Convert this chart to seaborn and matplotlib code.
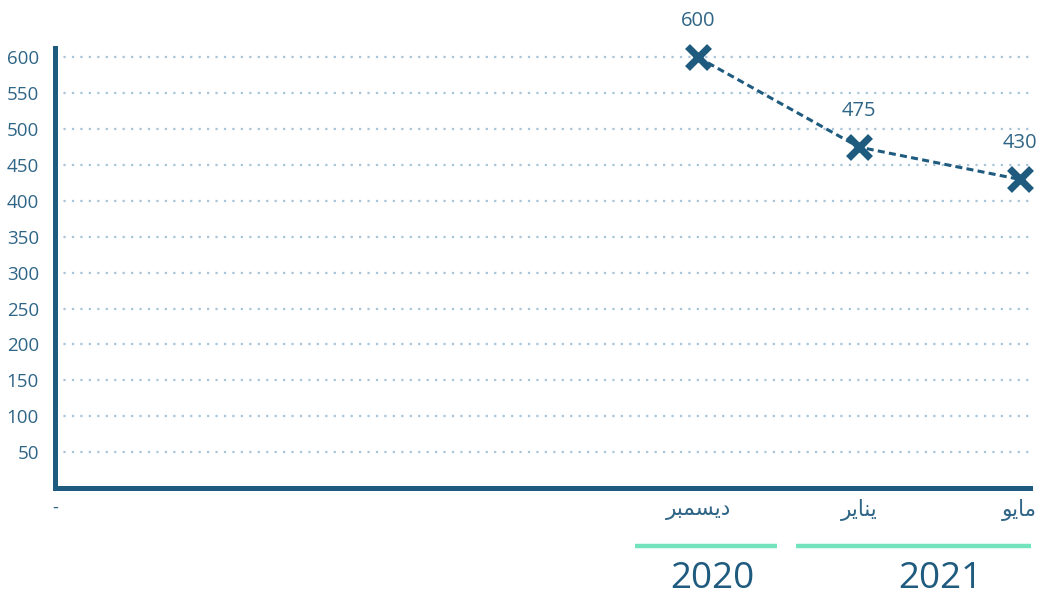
import numpy as np
import pandas as pd
import matplotlib
matplotlib.use("Agg")
import matplotlib.pyplot as plt
import seaborn as sns

# ---- data ----
categories = ["-", "", "", "", "ديسمبر", "يناير", "مايو"]
values = [np.nan, np.nan, np.nan, np.nan, 600, 475, 430]
y_ticks = [50, 100, 150, 200, 250, 300, 350, 400, 450, 500, 550, 600]
years = ["2020", "2021"]

# ---- simple Arabic shaping (matplotlib has no complex text layout) ----
FORMS = {
    "ا": ("\uFE8D", "\uFE8E", None, None),
    "ب": ("\uFE8F", "\uFE90", "\uFE91", "\uFE92"),
    "د": ("\uFEA9", "\uFEAA", None, None),
    "ر": ("\uFEAD", "\uFEAE", None, None),
    "س": ("\uFEB1", "\uFEB2", "\uFEB3", "\uFEB4"),
    "م": ("\uFEE1", "\uFEE2", "\uFEE3", "\uFEE4"),
    "ن": ("\uFEE5", "\uFEE6", "\uFEE7", "\uFEE8"),
    "و": ("\uFEED", "\uFEEE", None, None),
    "ي": ("\uFEF1", "\uFEF2", "\uFEF3", "\uFEF4"),
}


def shape(word):
    if not any(c in FORMS for c in word):
        return word
    out = []
    n = len(word)
    for i, c in enumerate(word):
        f = FORMS.get(c)
        if f is None:
            out.append(c)
            continue
        prev_j = i > 0 and word[i - 1] in FORMS and FORMS[word[i - 1]][2] is not None
        next_j = i < n - 1 and word[i + 1] in FORMS and f[2] is not None
        if prev_j and next_j:
            g = f[3]
        elif prev_j:
            g = f[1]
        elif next_j:
            g = f[2]
        else:
            g = f[0]
        out.append(g)
    return "".join(reversed(out))


sns.set_theme(style="white")
plt.rcParams["font.family"] = ["Open Sans", "DejaVu Sans"]

DARK = "#1e5b7e"
TEXT = "#2f6586"
GRID = "#a9c3d7"
GREEN = "#72e3bd"

df = pd.DataFrame({"pos": np.arange(len(categories)), "value": values})

fig = plt.figure(figsize=(10.39, 5.96), dpi=100)
ax = fig.add_axes([55 / 1039, 108 / 596, 975 / 1039, 440 / 596])

sns.lineplot(data=df.dropna(), x="pos", y="value", ax=ax, color=DARK,
             linewidth=2.2, linestyle=(0, (2.3, 1.4)), marker="x",
             markersize=16, markeredgewidth=5, markeredgecolor=DARK,
             zorder=5, clip_on=False)

ax.set_xlim(0, 6.065)
ax.set_ylim(0, 613)
ax.set_xlabel("")
ax.set_ylabel("")

ax.set_yticks(y_ticks)
ax.set_yticklabels([str(v) for v in y_ticks])
ax.set_xticks(np.arange(len(categories)))
ax.set_xticklabels([shape(c) for c in categories])

ax.grid(axis="y", color=GRID, linestyle=(0, (1, 2.8)), linewidth=1.6)
ax.grid(axis="x", visible=False)

for s in ["top", "right"]:
    ax.spines[s].set_visible(False)
for s in ["left", "bottom"]:
    ax.spines[s].set_color(DARK)
    ax.spines[s].set_linewidth(3.6)

ax.tick_params(axis="y", which="major", length=5, width=1.6, color=GRID,
               pad=6.5, labelsize=13.5, labelcolor=TEXT)
ax.tick_params(axis="x", which="major", length=0, pad=8, labelsize=13, labelcolor=TEXT)
ax.set_xticks([0], minor=True)
ax.set_yticks([0], minor=True)
ax.tick_params(which="minor", length=6, width=3.6, color=DARK, direction="out")

for lbl, c in zip(ax.get_xticklabels(), categories):
    if c != "-":
        lbl.set_fontsize(15.5)

for x, v in zip(df["pos"], df["value"]):
    if np.isnan(v):
        continue
    ax.annotate(f"{int(v)}", (x, v), xytext=(0, 26), textcoords="offset points",
                ha="center", va="center", fontsize=14.5, color=TEXT,
                fontweight="medium", annotation_clip=False)

# year bands below the axis
trans = ax.get_xaxis_transform()
ax.plot([3.61, 4.49], [-0.132, -0.132], transform=trans, color=GREEN,
        linewidth=3.2, clip_on=False, solid_capstyle="butt")
ax.plot([4.61, 6.07], [-0.132, -0.132], transform=trans, color=GREEN,
        linewidth=3.2, clip_on=False, solid_capstyle="butt")
ax.text(4.09, -0.207, years[0], transform=trans, ha="center", va="center",
        fontsize=26.5, color=DARK, fontweight="medium")
ax.text(5.51, -0.207, years[1], transform=trans, ha="center", va="center",
        fontsize=26.5, color=DARK, fontweight="medium")

fig.savefig("out.png", dpi=100)
